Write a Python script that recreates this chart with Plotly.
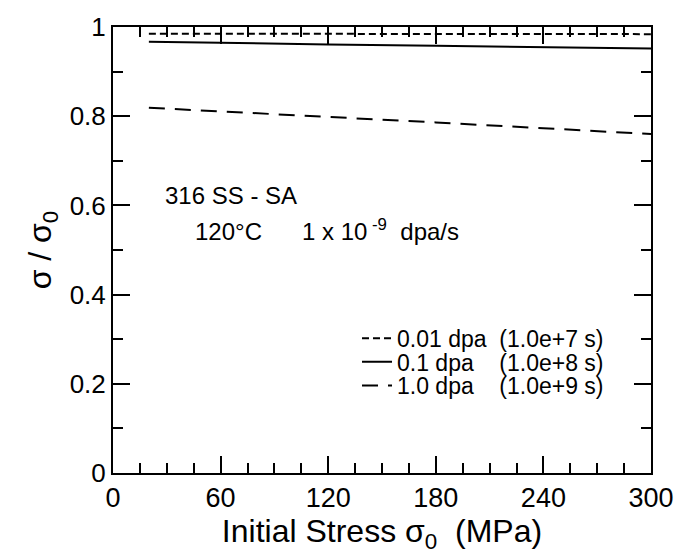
import plotly.graph_objects as go

stress = [20, 60, 120, 180, 240, 300]
ratio_001 = [0.985, 0.985, 0.985, 0.984, 0.984, 0.984]
ratio_01 = [0.967, 0.964, 0.961, 0.958, 0.955, 0.952]
ratio_10 = [0.819, 0.811, 0.799, 0.786, 0.773, 0.760]

labels = ["0.01 dpa\u00a0\u00a0(1.0e+7 s)",
          "0.1 dpa\u00a0\u00a0\u00a0\u00a0(1.0e+8 s)",
          "1.0 dpa\u00a0\u00a0\u00a0\u00a0(1.0e+9 s)"]

x_ticks = [0, 60, 120, 180, 240, 300]
y_ticks = [0, 0.2, 0.4, 0.6, 0.8, 1]
y_ticklabels = ["0", "0.2", "0.4", "0.6", "0.8", "1"]

FONT = "Liberation Sans, Arial, sans-serif"
L, R, T, B = 113, 24, 21, 79
PW = 686 - L - R
PH = 554 - T - B


def px(xp):
    return (xp - L) / PW


def py(yp):
    return (554 - B - yp) / PH


fig = go.Figure()
fig.add_trace(go.Scatter(x=stress, y=ratio_001, mode="lines", name=labels[0],
                         legend="legend",
                         line=dict(color="black", width=2, dash="7px,4px")))
fig.add_trace(go.Scatter(x=stress, y=ratio_01, mode="lines", name=labels[1],
                         legend="legend2",
                         line=dict(color="black", width=2)))
fig.add_trace(go.Scatter(x=stress, y=ratio_10, mode="lines", name=labels[2],
                         legend="legend3",
                         line=dict(color="black", width=2, dash="16px,10px")))

leg_common = dict(xanchor="left", yanchor="top", bgcolor="rgba(0,0,0,0)",
                  font=dict(size=23, family=FONT, color="black"), borderwidth=0)

fig.update_layout(
    width=686, height=554,
    margin=dict(l=L, r=R, t=T, b=B),
    paper_bgcolor="white", plot_bgcolor="white",
    font=dict(family=FONT, color="black", size=26),
    showlegend=True,
    legend=dict(x=px(362), y=py(316), **leg_common),
    legend2=dict(x=px(362), y=py(340), **leg_common),
    legend3=dict(x=px(362), y=py(364), **leg_common),
    xaxis=dict(range=[0, 300], tickvals=x_ticks, ticks="inside", ticklen=17,
               tickwidth=2, tickcolor="black", showline=True, linewidth=2,
               linecolor="black", mirror="ticks", showgrid=False, zeroline=False,
               tickfont=dict(size=27),
               minor=dict(dtick=15, tick0=0, ticks="inside", ticklen=10, tickwidth=2,
                          tickcolor="black", showgrid=False),
               title=dict(text="Initial Stress σ<sub>0</sub>\u00a0\u00a0(MPa)",
                          font=dict(size=32), standoff=6)),
    yaxis=dict(range=[0, 1], tickvals=y_ticks, ticktext=y_ticklabels, ticks="inside",
               ticklen=17, tickwidth=2, tickcolor="black", showline=True, linewidth=2,
               linecolor="black", mirror="ticks", showgrid=False, zeroline=False,
               tickfont=dict(size=26),
               minor=dict(dtick=0.1, tick0=0, ticks="inside", ticklen=10, tickwidth=2,
                          tickcolor="black", showgrid=False),
               title=dict(text="σ / σ<sub>0</sub>", font=dict(size=32), standoff=8)),
)

fig.add_annotation(x=px(164), y=py(193), xref="paper", yref="paper", text="316 SS - SA",
                   showarrow=False, font=dict(size=24), xanchor="left", yanchor="middle")
fig.add_annotation(x=px(195), y=py(228), xref="paper", yref="paper",
                   text="120°C\u00a0\u00a0\u00a0\u00a0\u00a0 1 x 10<sup> -9</sup>\u00a0 dpa/s",
                   showarrow=False, font=dict(size=24), xanchor="left", yanchor="middle")

fig.write_html("out.html")
